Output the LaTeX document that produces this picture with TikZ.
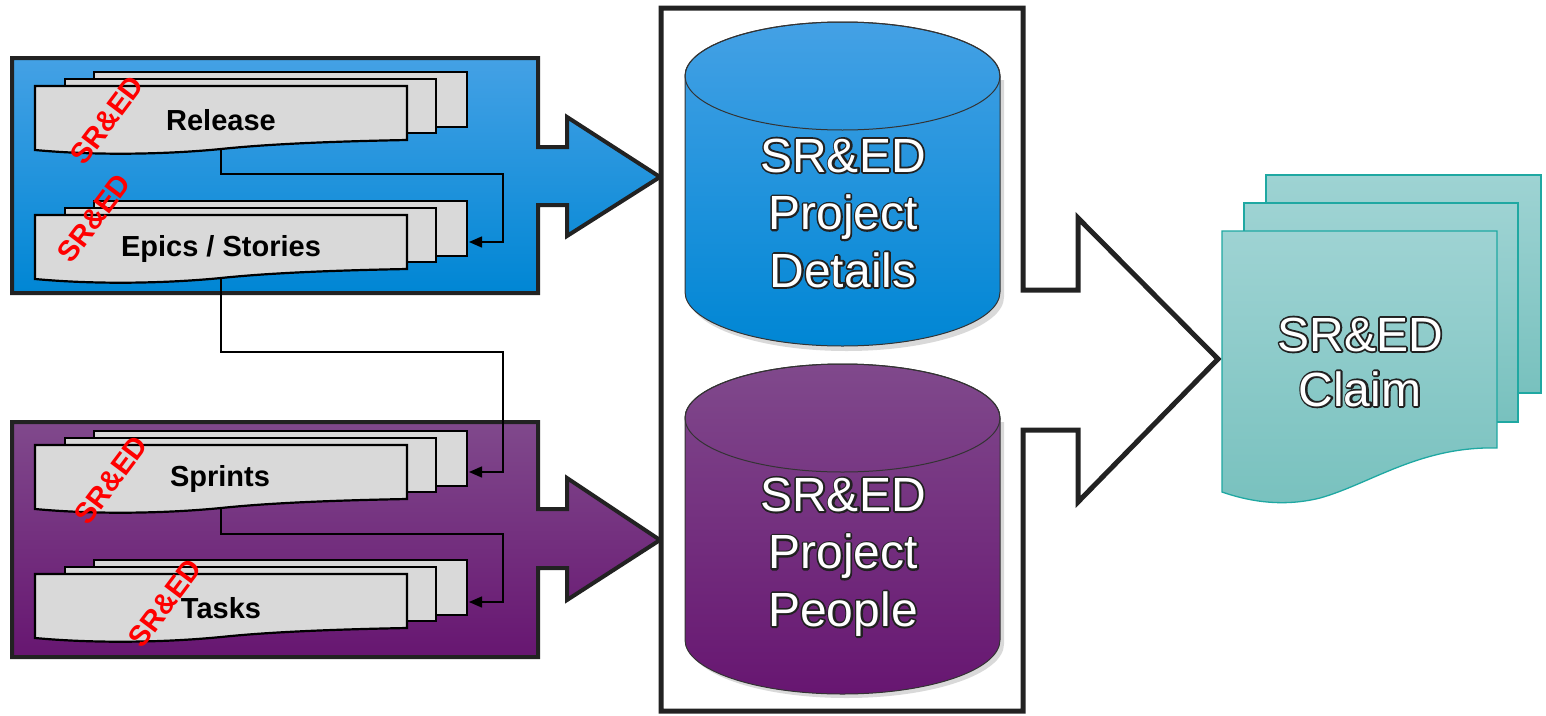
\documentclass[tikz,border=0pt]{standalone}
\usepackage{fontspec}
\setmainfont{Liberation Sans}
\usetikzlibrary{arrows.meta}
\definecolor{bluetop}{HTML}{44A1E5}
\definecolor{bluebot}{HTML}{0086D4}
\definecolor{purptop}{HTML}{80498C}
\definecolor{purpbot}{HTML}{671671}
\definecolor{docgray}{HTML}{D9D9D9}
\definecolor{frameline}{HTML}{222222}
\definecolor{claimtop}{HTML}{9ED3D3}
\definecolor{claimbot}{HTML}{78C1BE}
\definecolor{claimline}{HTML}{1FA8A2}
\newcommand\outlined[1]{\rlap{\special{pdf:literal direct 0.13 G 3.6 w 1 j 1 Tr}#1\special{pdf:literal direct 0 Tr}}#1}
\newcommand\mdocs[1]{%
 \begin{scope}[shift={(0,#1)}]
  \draw[docbox] (94,-14) rectangle (467,41);
  \draw[docbox] (65,-7) rectangle (436,47);
  \draw[docbox] (35,0) -- (407,0) -- (407,54) .. controls (300,56) and (250,60) .. (221,63) .. controls (170,68) and (100,70) .. (35,64) -- cycle;
 \end{scope}}
\begin{document}
\begin{tikzpicture}[x=1pt,y=-1pt,
  frame/.style={line width=4pt, draw=frameline, line join=miter},
  docbox/.style={draw=black, line width=2.2pt, fill=docgray},
  doclabel/.style={font=\bfseries\fontsize{29}{34}\selectfont, text=black},
  stamp/.style={font=\bfseries\fontsize{29}{34}\selectfont, text=red, rotate=53},
  conn/.style={line width=1.4pt, -{Triangle[length=13pt,width=11pt]}},
  bigtxt/.style={text=white, align=center, font=\fontsize{48}{57.5}\selectfont},
  claimdoc/.style={draw=claimline, line width=1.3pt, top color=claimtop, bottom color=claimbot},
  cylout/.style={draw=black!80, line width=1pt}]
\useasboundingbox (0,0) rectangle (1546,715);

% left frames
\draw[frame, top color=bluetop, bottom color=bluebot]
  (12,58) -- (538,58) -- (538,147) -- (567,147) -- (567,117) -- (660,177) -- (567,236) -- (567,205) -- (538,205) -- (538,293) -- (12,293) -- cycle;
\draw[frame, top color=purptop, bottom color=purpbot]
  (12,422) -- (538,422) -- (538,509) -- (567,509) -- (567,478) -- (660,540) -- (567,600) -- (567,568) -- (538,568) -- (538,657) -- (12,657) -- cycle;

% centre frame with big arrow
\draw[line width=5pt, draw=frameline, fill=white, line join=miter]
  (661,8) -- (1023,8) -- (1023,290) -- (1078,290) -- (1078,218) -- (1218,359) -- (1078,502) -- (1078,430) -- (1023,430) -- (1023,711) -- (661,711) -- cycle;

% documents
\mdocs{86}
\mdocs{215}
\mdocs{445}
\mdocs{574}

\node[doclabel] (release) at (221,120) {Release};
\node[doclabel] (epics) at (221,249) {Epics / Stories};
\node[doclabel] (sprints) at (220,479) {Sprints};
\node[doclabel] (tasks) at (221,608) {Tasks};

\node[stamp] (st1) at (107,120) {SR\&ED};
\node[stamp] (st2) at (94,218) {SR\&ED};
\node[stamp] (st3) at (111,480) {SR\&ED};
\node[stamp] (st4) at (165,603) {SR\&ED};

% connectors
\coordinate (release-out) at (221,149);
\coordinate (epics-in) at (469,242);
\coordinate (epics-out) at (221,278);
\coordinate (sprints-in) at (469,472);
\coordinate (sprints-out) at (221,508);
\coordinate (tasks-in) at (469,602);
\draw[conn] (release-out) |- (503,174) |- (epics-in);
\draw[conn] (epics-out) |- (503,352) |- (sprints-in);
\draw[conn] (sprints-out) |- (503,534) |- (tasks-in);

% cylinders
\fill[black, opacity=0.15] (689,80) -- (689,297) arc[start angle=180, end angle=360, x radius=157.5pt, y radius=54pt] -- (1004,80) -- cycle;
\draw[cylout, top color=bluetop, bottom color=bluebot]
  (685,76) -- (685,292) arc[start angle=180, end angle=360, x radius=157.5pt, y radius=54pt] -- (1000,76) arc[start angle=0, end angle=180, x radius=157.5pt, y radius=54pt] -- cycle;
\draw[cylout] (842.5,76) ellipse[x radius=157.5pt, y radius=54pt];
\node[bigtxt] (details) at (843,213) {\outlined{SR\&ED}\\\outlined{Project}\\\outlined{Details}};

\fill[black, opacity=0.15] (689,422) -- (689,644) arc[start angle=180, end angle=360, x radius=157.5pt, y radius=54pt] -- (1004,422) -- cycle;
\draw[cylout, top color=purptop, bottom color=purpbot]
  (685,418) -- (685,640) arc[start angle=180, end angle=360, x radius=157.5pt, y radius=54pt] -- (1000,418) arc[start angle=0, end angle=180, x radius=157.5pt, y radius=54pt] -- cycle;
\draw[cylout] (842.5,418) ellipse[x radius=157.5pt, y radius=54pt];
\node[bigtxt] (people) at (843,557) {\outlined{SR\&ED}\\\outlined{Project}\\\outlined{People}};

% claim documents
\draw[claimdoc] (1266,175) rectangle (1541,393);
\draw[claimdoc] (1244,203) rectangle (1518,422);
\draw[claimdoc] (1222,231) -- (1497,231) -- (1497,448) .. controls (1420,446) and (1370,484) .. (1320,498) .. controls (1280,508) and (1245,500) .. (1222,492) -- cycle;
\node[bigtxt, font=\fontsize{48}{55}\selectfont] (claim) at (1360,362) {\outlined{SR\&ED}\\\outlined{Claim}};
\end{tikzpicture}
\end{document}
